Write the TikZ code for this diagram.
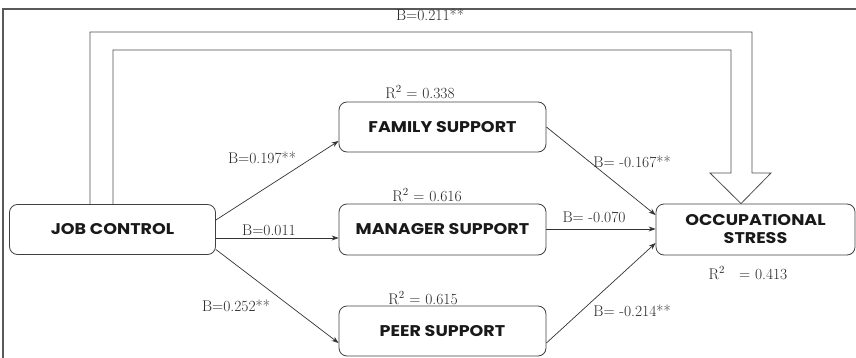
\documentclass[tikz,border=0pt]{standalone}
\usepackage{fontspec}
\newfontfamily\boxfont{Poppins}[FakeStretch=1.13]
\usetikzlibrary{arrows.meta}
\tikzset{
  box/.style={draw=black!75, line width=0.8pt, rounded corners=8pt, inner sep=0pt, align=center,
    font=\boxfont\bfseries\fontsize{15.5}{18}\selectfont, text=black!90},
  lab/.style={inner sep=0pt, font=\fontsize{15.5}{17}\selectfont, text=black!85},
  link/.style={draw=black!80, line width=0.7pt, -{Stealth[length=7pt,width=5pt]}},
  frame/.style={draw=black!65, line width=1.2pt},
  bigarrow/.style={draw=black!70, line width=0.8pt, line join=miter}
}
\begin{document}
\begin{tikzpicture}[x=1pt,y=-1pt]
\useasboundingbox (0,0) rectangle (856,358);
\draw[frame] (3,358) -- (3,9) -- (856,9);

\node[box, minimum width=206pt, minimum height=50pt] (jc) at (112.5,229.5) {JOB CONTROL};
\node[box, minimum width=207pt, minimum height=50pt] (fs) at (442.5,127) {FAMILY SUPPORT};
\node[box, minimum width=207pt, minimum height=51pt] (ms) at (442.5,229.5) {MANAGER SUPPORT};
\node[box, minimum width=207pt, minimum height=50pt] (ps) at (442.5,331) {PEER SUPPORT};
\node[box, minimum width=199pt, minimum height=51pt] (os) at (755.5,229.5) {OCCUPATIONAL\\STRESS};

\coordinate (a1) at (90,204);
\coordinate (a2) at (113,204);
\draw[bigarrow] (a1) -- (90,32) -- (752,32) -- (752,173) -- (771,173) -- (os.north -| 741,0) -- (710,173) -- (731,173) -- (731,50) -- (113,50) -- (a2);

\draw[link] ([yshift=9.5pt]jc.east) -- ([yshift=-14pt]fs.west);
\draw[link] ([yshift=-8.5pt]jc.east) -- ([yshift=-8.5pt]ms.west);
\draw[link] ([yshift=-20pt]jc.east) -- ([yshift=-12pt]ps.west);
\draw[link] (fs.east) -- ([yshift=14.5pt]os.west);
\draw[link] ([yshift=0.5pt]ms.east) -- ([yshift=0.5pt]os.west);
\draw[link] ([yshift=-12pt]ps.east) -- ([yshift=-13.5pt]os.west);

\node[lab] (l0) at (430,15) {B=0.211**};
\node[lab] (r1) at (420,92) {R\textsuperscript{2} = 0.338};
\node[lab] (r2) at (427,195) {R\textsuperscript{2} = 0.616};
\node[lab] (r3) at (423,298) {R\textsuperscript{2} = 0.615};
\node[lab] (r4) at (748,273) {R\textsuperscript{2}~~ = 0.413};
\node[lab] (l1) at (262,158) {B=0.197**};
\node[lab] (l2) at (269,230) {B=0.011};
\node[lab] (l3) at (236,306) {B=0.252**};
\node[lab] (l4) at (632,162) {B= -0.167**};
\node[lab] (l5) at (594,217) {B= -0.070};
\node[lab] (l6) at (632,311) {B= -0.214**};
\end{tikzpicture}
\end{document}
